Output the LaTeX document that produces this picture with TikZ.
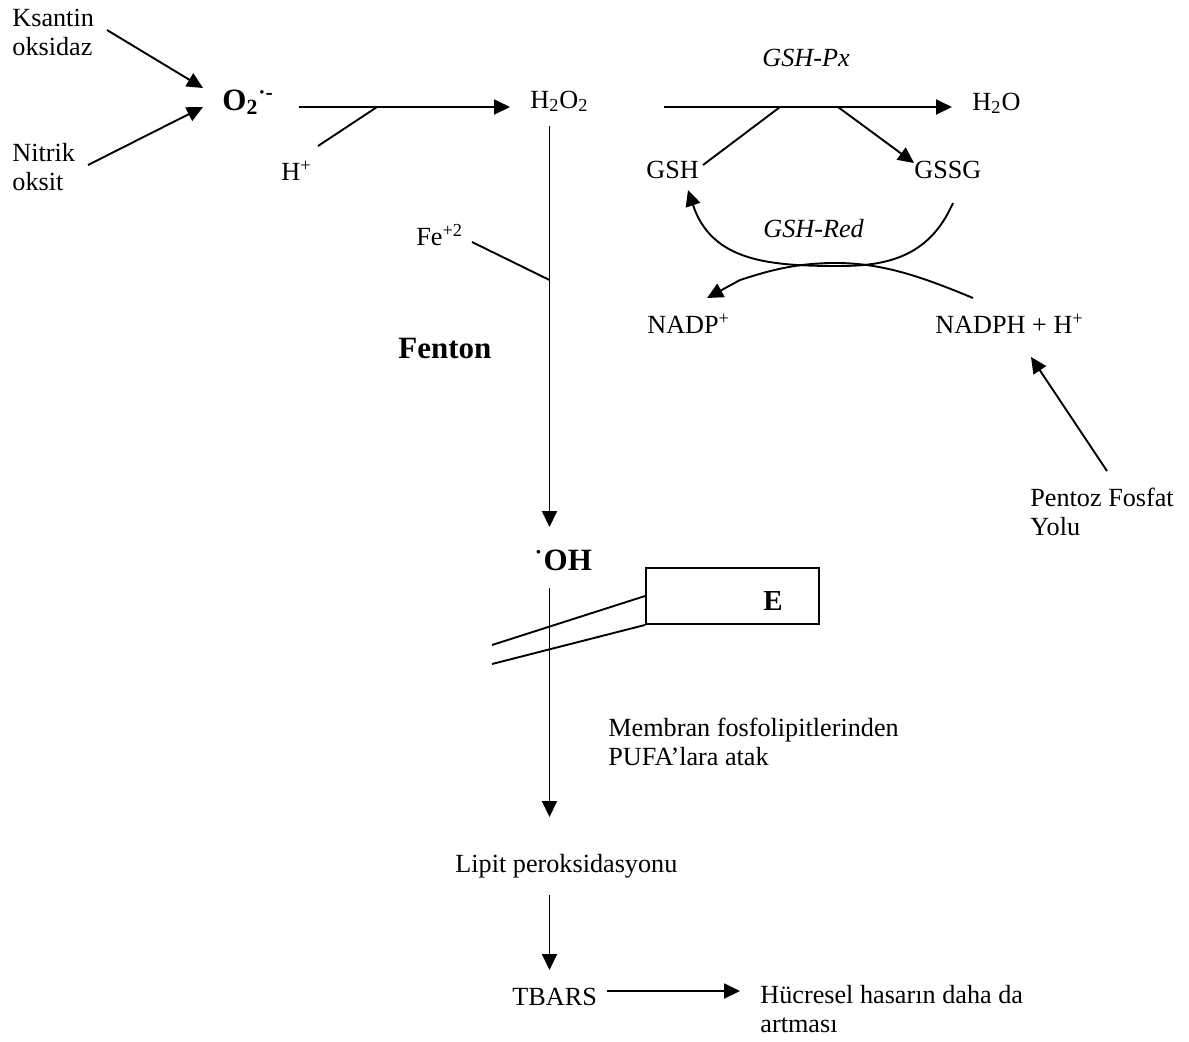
\documentclass[tikz,border=0pt]{standalone}
\usepackage{fontspec}
\setmainfont{Liberation Serif}
\usetikzlibrary{arrows.meta}
\begin{document}
\begin{tikzpicture}[x=0.5pt,y=-0.5pt,
  txt/.style={inner sep=0pt,anchor=base west,font=\fontsize{13.1}{14.3}\selectfont,align=left},
  bld/.style={inner sep=0pt,anchor=base west,font=\fontsize{15.5}{18}\selectfont\bfseries},
  ln/.style={line width=0.95pt},
  arr/.style={line width=0.95pt,-{Triangle[length=8pt,width=7.5pt]}}]
\useasboundingbox (0,0) rectangle (1189,1041);
% texts (multi-line nodes: base = last line)
\node[txt] (ks) at (12,55) {Ksantin\\oksidaz};
\node[txt] (ni) at (12,190) {Nitrik\\oksit};
\node[bld] (o2) at (222,110) {O\textsubscript{2}\textsuperscript{·-}};
\node[txt] (hp) at (281,180) {H\textsuperscript{+}};
\node[txt] (h2o2) at (530,108) {H\textsubscript{2}O\textsubscript{2}};
\node[txt] (fe) at (416,245) {Fe\textsuperscript{+2}};
\node[inner sep=0pt,anchor=base west,font=\fontsize{15.5}{18}\selectfont\bfseries] (fen) at (398,358) {Fenton};
\node[txt,font=\fontsize{13.1}{14}\selectfont\itshape] (gpx) at (762,66) {GSH-Px};
\node[txt] (h2o) at (972,110) {H\textsubscript{2}O};
\node[txt] (gsh) at (646,178) {GSH};
\node[txt] (gssg) at (914,178) {GSSG};
\node[txt,font=\fontsize{13.1}{14}\selectfont\itshape] (gred) at (763,237) {GSH-Red};
\node[txt] (nadp) at (647,333) {NADP\textsuperscript{+}};
\node[txt] (nadph) at (935,333) {NADPH + H\textsuperscript{+}};
\node[txt] (pfy) at (1030,535) {Pentoz Fosfat\\Yolu};
\node[bld] (oh) at (533,570) {\raisebox{0.5ex}{\mdseries·}OH};
\node[draw,line width=0.95pt,minimum width=86.5pt,minimum height=28pt,inner sep=0pt] (ebox) at (732.5,596) {};
\node[inner sep=0pt,font=\fontsize{14.5}{16}\selectfont\bfseries] (e) at (773,601) {E};
\node[txt] (mem) at (608,765) {Membran fosfolipitlerinden\\PUFA’lara atak};
\node[txt] (lip) at (455,872) {Lipit peroksidasyonu};
\node[txt] (tb) at (512,1005) {TBARS};
\node[txt] (hu) at (760,1032) {Hücresel hasarın daha da\\artması};
% coordinates
\coordinate (k1) at (107,30); \coordinate (k2) at (203,88);
\coordinate (n1) at (88,165); \coordinate (n2) at (203,107);
\coordinate (a1) at (299,107); \coordinate (a2) at (510,107);
\coordinate (hj) at (377,107); \coordinate (hs) at (318,146);
\coordinate (v0) at (549.5,126); \coordinate (v1) at (549.5,318); \coordinate (v2) at (549.5,395); \coordinate (v3) at (549.5,527);
\coordinate (fs) at (472,242); \coordinate (fj) at (549.5,280);
\coordinate (b1) at (664,107); \coordinate (b2) at (952,107);
\coordinate (gj) at (780,107); \coordinate (gs) at (703,165);
\coordinate (sj) at (838,107); \coordinate (st) at (914,163);
\coordinate (c1) at (953,203); \coordinate (c2) at (840,266); \coordinate (c3) at (688,190);
\coordinate (d1) at (973,298); \coordinate (d2) at (830,263); \coordinate (d3) at (740,280); \coordinate (d4) at (707,298);
\coordinate (p1) at (1107,471); \coordinate (p2) at (1031,357);
\coordinate (m1) at (492,645); \coordinate (m2) at (492,664);
\coordinate (w0) at (549.5,588); \coordinate (w1) at (549.5,817);
\coordinate (x0) at (549.5,895); \coordinate (x1) at (549.5,970);
\coordinate (t0) at (607,991); \coordinate (t1) at (740,991);
% connectors
\draw[arr] (k1) -- (k2);
\draw[arr] (n1) -- (n2);
\draw[arr] (a1) -- (a2);
\draw[ln] (hs) -- (hj);
\draw[ln] (v0) -- (v1);
\draw[line width=0.45pt] (v1) -- (v2);
\draw[arr] (v2) -- (v3);
\draw[ln] (fs) -- (fj);
\draw[arr] (b1) -- (b2);
\draw[ln] (gs) -- (gj);
\draw[arr] (sj) -- (st);
\draw[arr] (c1) .. controls (930,255) and (890,266) .. (c2) .. controls (770,266) and (712,262) .. (c3);
\draw[arr] (d1) .. controls (920,276) and (880,262) .. (d2) .. controls (790,264) and (765,272) .. (d3) -- (d4);
\draw[arr] (p1) -- (p2);
\draw[ln] (m1) -- (ebox.west);
\draw[ln] (m2) -- (ebox.south west);
\draw[arr] (w0) -- (w1);
\draw[arr] (x0) -- (x1);
\draw[arr] (t0) -- (t1);
\end{tikzpicture}
\end{document}
